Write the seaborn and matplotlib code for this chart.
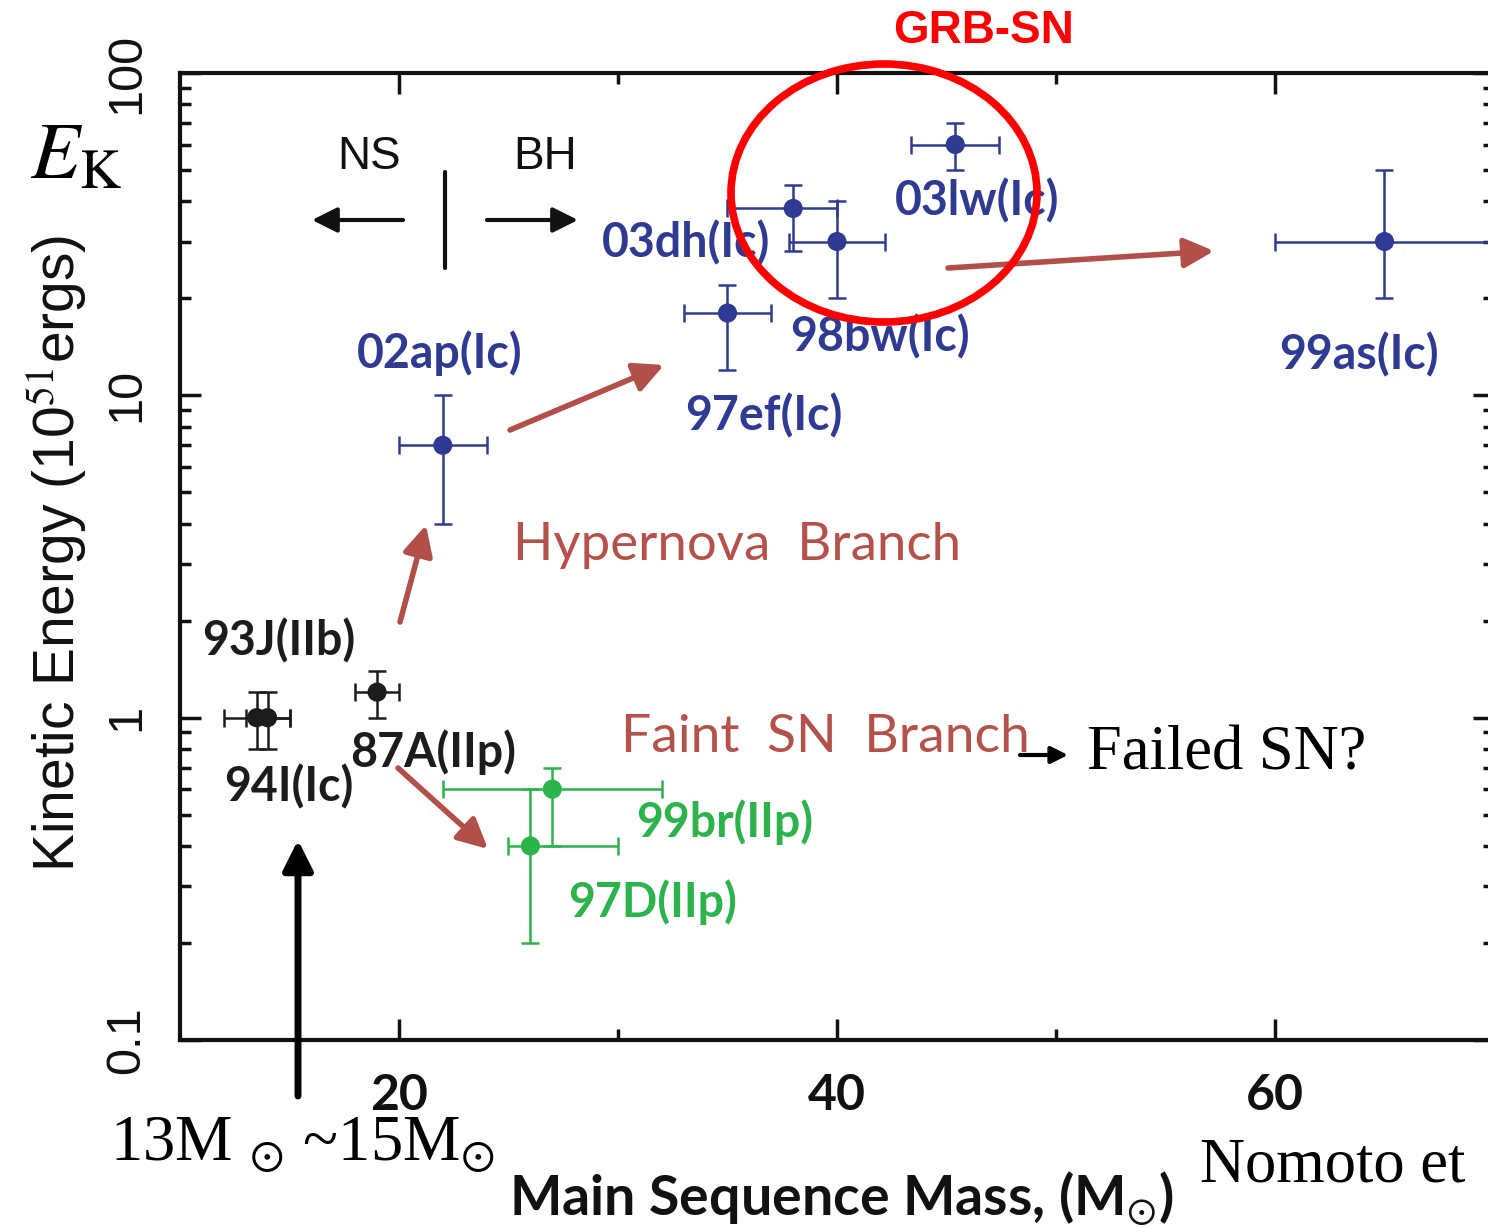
import numpy as np
import pandas as pd
import matplotlib
matplotlib.use("Agg")
import matplotlib.pyplot as plt
import matplotlib.patches as mpatches
from matplotlib.ticker import FixedLocator, FixedFormatter, NullFormatter
import seaborn as sns

# ---------------- data ----------------
names = ["94I(Ic)", "93J(IIb)", "87A(IIp)", "02ap(Ic)", "97ef(Ic)", "03dh(Ic)",
         "98bw(Ic)", "03lw(Ic)", "99as(Ic)", "99br(IIp)", "97D(IIp)"]
mass = [13.5, 14.0, 19.0, 22.0, 35.0, 38.0, 40.0, 45.4, 65.0, 27.0, 26.0]
mass_lo = [1.5, 1.0, 1.0, 2.0, 2.0, 3.0, 2.2, 2.0, 5.0, 5.0, 1.0]
mass_hi = [1.5, 1.0, 1.0, 2.0, 2.0, 2.0, 2.2, 2.0, 5.0, 5.0, 4.0]
ek = [1.0, 1.0, 1.2, 7.0, 18.0, 38.0, 30.0, 60.0, 30.0, 0.6, 0.4]
ek_lo = [0.2, 0.2, 0.2, 3.0, 6.0, 10.0, 10.0, 10.0, 10.0, 0.2, 0.2]
ek_hi = [0.2, 0.2, 0.2, 3.0, 4.0, 7.0, 10.0, 10.0, 20.0, 0.1, 0.2]
group = ["normal", "normal", "normal", "hyper", "hyper", "hyper", "hyper",
         "hyper", "hyper", "faint", "faint"]

x_ticks = [20, 40, 60]
x_tick_labels = ["20", "40", "60"]
y_ticks = [0.1, 1, 10, 100]
y_tick_labels = ["0.1", "1", "10", "100"]

palette = {"normal": "#1c1c1c", "hyper": "#2f3a93", "faint": "#2db34c"}
ARROW_RED = "#b14f48"
TEXT_RED = "#b5514b"

df = pd.DataFrame(dict(name=names, mass=mass, mass_lo=mass_lo, mass_hi=mass_hi,
                       ek=ek, ek_lo=ek_lo, ek_hi=ek_hi, group=group))

# ---------------- figure ----------------
sns.set_theme(style="white")
plt.rcParams["font.family"] = ["Lato", "DejaVu Sans"]
plt.rcParams["mathtext.fontset"] = "stix"

NARROW = ["Liberation Sans Narrow", "Liberation Sans", "DejaVu Sans"]

W, H = 1488, 1227
fig = plt.figure(figsize=(W / 100, H / 100), dpi=100)
fig.patch.set_facecolor("white")
ax_left, ax_right, ax_top, ax_bot = 180, 1494, 73, 1040
ax = fig.add_axes([ax_left / W, 1 - ax_bot / H, (ax_right - ax_left) / W,
                   (ax_bot - ax_top) / H])
ax.set_facecolor("white")

# error bars
for g, sub in df.groupby("group"):
    ax.errorbar(sub["mass"], sub["ek"],
                xerr=[sub["mass_lo"], sub["mass_hi"]],
                yerr=[sub["ek_lo"], sub["ek_hi"]],
                fmt="none", ecolor=palette[g], elinewidth=1.8, capsize=6.5,
                capthick=1.8, zorder=2)
sns.scatterplot(data=df, x="mass", y="ek", hue="group", palette=palette,
                s=190, edgecolor="none", legend=False, ax=ax, zorder=3)

ax.set_xscale("linear")
ax.set_yscale("log")
ax.set_xlim(10, 70)
ax.set_ylim(0.1, 100)

ax.xaxis.set_major_locator(FixedLocator(x_ticks))
ax.xaxis.set_major_formatter(FixedFormatter(x_tick_labels))
ax.xaxis.set_minor_locator(FixedLocator([30, 50]))
ax.yaxis.set_major_locator(FixedLocator(y_ticks))
ax.yaxis.set_major_formatter(FixedFormatter(y_tick_labels))
minors = [m * d for d in (0.1, 1, 10) for m in range(2, 10)]
ax.yaxis.set_minor_locator(FixedLocator(minors))
ax.yaxis.set_minor_formatter(NullFormatter())

for s in ax.spines.values():
    s.set_linewidth(3)
    s.set_color("#111111")
ax.tick_params(which="both", direction="in", top=True, right=True,
               bottom=True, left=True, color="#111111")
ax.tick_params(which="major", length=15, width=2.5)
ax.tick_params(which="minor", length=8, width=2.5)
ax.tick_params(axis="x", which="major", pad=24, labelsize=36, labelcolor="#111111")
ax.tick_params(axis="y", which="major", pad=22, labelsize=35, labelcolor="#111111",
               labelrotation=90)
for lab in ax.get_xticklabels():
    lab.set_fontweight("bold")
for lab in ax.get_yticklabels():
    lab.set_family(NARROW)
    lab.set_va("center")

ax.set_xlabel(r"Main Sequence Mass, (M$_{\odot}$)", fontsize=40, fontweight="bold",
              color="#111111", va="center", ha="center")
ax.xaxis.set_label_coords((841 - ax_left) / (ax_right - ax_left),
                          (ax_bot - 1198) / (ax_bot - ax_top))
ax.set_ylabel(r"Kinetic Energy (10$^{51}$ergs)", fontsize=41, color="#111111",
              family=NARROW, va="center", ha="center")
ax.yaxis.set_label_coords((57 - ax_left) / (ax_right - ax_left),
                          (ax_bot - 553) / (ax_bot - ax_top))


def fx(px):
    return px / W


def fy(py):
    return 1 - py / H


def ftext(px, py, s, **kw):
    kw.setdefault("ha", "center")
    kw.setdefault("va", "center")
    return fig.text(fx(px), fy(py), s, **kw)


def farrow(x0, y0, x1, y1, color, lw, ms):
    ax.annotate("", xy=(fx(x1), fy(y1)), xytext=(fx(x0), fy(y0)),
                xycoords="figure fraction", textcoords="figure fraction",
                arrowprops=dict(arrowstyle="-|>", color=color, lw=lw,
                                mutation_scale=ms, shrinkA=0, shrinkB=0),
                annotation_clip=False, zorder=5)


# point labels (figure pixel positions)
label_pos = {
    "02ap(Ic)": (440, 353), "97ef(Ic)": (764, 416), "03dh(Ic)": (686, 243),
    "98bw(Ic)": (880, 337), "03lw(Ic)": (977, 201), "99as(Ic)": (1359, 355),
    "99br(IIp)": (725, 822), "97D(IIp)": (653, 902), "93J(IIb)": (279, 641),
    "94I(Ic)": (289, 787), "87A(IIp)": (433, 752),
}
for n, g in zip(names, group):
    px, py = label_pos[n]
    ftext(px, py, n, fontsize=33.5, fontweight="bold", color=palette[g])

# NS / BH
ftext(369, 157, "NS", fontsize=33, family=["Liberation Sans", "DejaVu Sans"], color="#111111")
ftext(545, 157, "BH", fontsize=33, family=["Liberation Sans", "DejaVu Sans"], color="#111111")
farrow(403, 220, 312, 220, "#111111", 3, 38)
farrow(487, 220, 578, 220, "#111111", 3, 38)
fig.add_artist(plt.Line2D([fx(445), fx(445)], [fy(172), fy(268)], color="#111111", lw=3))

# branches
ftext(737, 546, "Hypernova  Branch", fontsize=38, color=TEXT_RED)
ftext(825, 738, "Faint  SN  Branch", fontsize=38.5, color=TEXT_RED)

# red-brown arrows
farrow(400, 622, 426, 525, ARROW_RED, 4, 45)
farrow(510, 430, 664, 365, ARROW_RED, 4, 45)
farrow(948, 268, 1214, 251, ARROW_RED, 4, 45)
farrow(398, 768, 488, 849, ARROW_RED, 4, 45)

# GRB-SN circle
ell = mpatches.Ellipse((fx(884), fy(193)), width=306 / W, height=258 / H,
                       transform=fig.transFigure, fill=False, edgecolor="#ff0000",
                       lw=5.5, zorder=6)
fig.add_artist(ell)
ftext(984, 31, "GRB-SN", fontsize=33, fontweight="bold", color="#ff0000",
      family=["Liberation Sans", "DejaVu Sans"])

# Failed SN
farrow(1020, 755, 1068, 755, "#000000", 3, 25)
ftext(1087, 754, "Failed SN?", fontsize=45, ha="left",
      family=["Liberation Serif", "DejaVu Serif"], color="#000000")

# E_K
fig.text(fx(30), fy(178), r"$E_{\mathrm{K}}$", fontsize=58, ha="left",
         va="baseline", color="#000000")

# vertical black arrow (mass range)
farrow(298, 1096, 298, 840, "#000000", 5, 45)
fig.text(fx(110), fy(1160), r"13M $_{\odot}$ ~15M$_{\odot}$", fontsize=46.5,
         ha="left", va="baseline", family=["Liberation Serif", "DejaVu Serif"],
         color="#000000")
fig.text(fx(1200), fy(1182), "Nomoto et", fontsize=45, ha="left",
         va="baseline", family=["Liberation Serif", "DejaVu Serif"], color="#000000")

fig.savefig("out.png", dpi=100, facecolor="white")
